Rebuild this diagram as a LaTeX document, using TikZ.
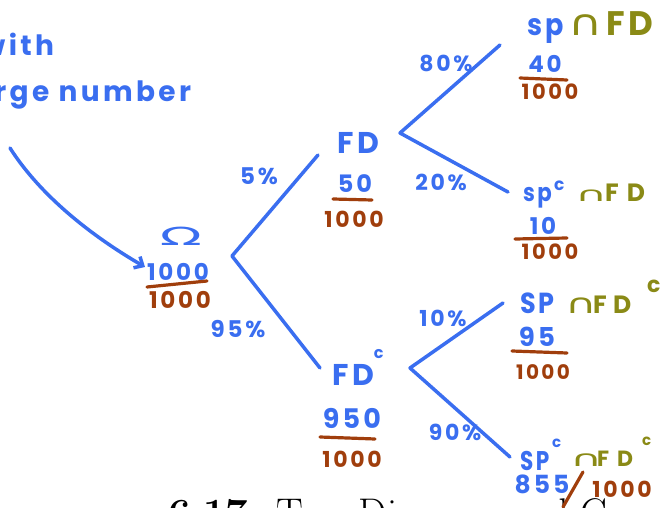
\documentclass[tikz,border=0pt]{standalone}
\usepackage{fontspec}
\newfontfamily\hand{Poppins}[LetterSpace=12]
\newfontfamily\symf{DejaVu Sans}
\usetikzlibrary{arrows.meta}
\definecolor{hblue}{RGB}{58,110,240}
\definecolor{hbrown}{RGB}{160,62,12}
\definecolor{holive}{RGB}{138,138,22}
\newcommand\hcap[2]{{\hspace{-3pt}\symf\mdseries\fontsize{#1}{#1}\selectfont\scalebox{#2}[1]{∩}}}
\newcommand\gl[2]{\makebox[#1pt][l]{#2}}
\newcommand\fs[1]{\fontsize{#1}{#1}\selectfont}
\newcommand\sx[2]{\scalebox{#1}[1]{#2}}
\tikzset{
  lbl/.style={inner sep=0pt, outer sep=0pt},
  btxt/.style={lbl, text=hblue, font=\hand\bfseries\fs{#1}},
  rtxt/.style={lbl, text=hbrown, font=\hand\bfseries\fs{#1}},
  branch/.style={draw=hblue, line width=3.5pt, line cap=round, line join=round},
  uline/.style={draw=hbrown, line width=3.2pt, line cap=round},
}
\begin{document}
\begin{tikzpicture}[x=1pt,y=-1pt]
\useasboundingbox (0,0) rectangle (670,508);
\clip (0,0) rectangle (670,508);

% caption (partly cut off)
\node[lbl, anchor=base west, font=\fs{40}] (cap) at (168,526) {\textbf{6.17:} Tree Diagram and C};

% left text and arrow
\node[btxt=28, anchor=base east] (with) at (54,56) {with};
\node[btxt=28, anchor=base east] (large) at (191,102) {large number};
\coordinate (astart) at (10,148);
\coordinate (atip) at (145,267);
\draw[branch, -{Straight Barb[length=7pt,width=13pt]}] (astart) .. controls (40,195) and (90,235) .. (atip);

% root
\node[btxt=25] (omega) at (181,236) {\symf\mdseries\sx{2.2}{Ω}};
\node[btxt=23] (r1) at (178,272) {1000};
\draw[uline] (147,287) -- (207,281);
\node[rtxt=23] (r2) at (180,300) {1000};

% first level branches
\coordinate (v0) at (232,256);
\coordinate (e1) at (318,155);
\coordinate (e2) at (320,368);
\draw[branch] (e1) -- (v0) -- (e2);
\node[btxt=23] (p5) at (259,176) {5\%};
\node[btxt=23] (p95) at (238,329) {95\%};

% FD
\node[btxt=30] (fd) at (358,143) {FD};
\node[btxt=24] (fdn) at (355,184) {50};
\draw[uline] (333,199) -- (372,200);
\node[rtxt=22] (fdd) at (354,219) {1000};

% FD^c
\node[btxt=30, anchor=base west] (fdc) at (332,385) {FD\raisebox{27pt}{\fs{16}c}};
\node[btxt=27] (fdcn) at (352,418) {950};
\draw[uline] (320,437) -- (375,439);
\node[rtxt=22] (fdcd) at (352,459) {1000};

% second level branches
\coordinate (v1) at (400,133);
\coordinate (e3) at (500,45);
\coordinate (e4) at (508,192);
\draw[branch] (e3) -- (v1) -- (e4);
\coordinate (v2) at (410,368);
\coordinate (e5) at (503,303);
\coordinate (e6) at (510,457);
\draw[branch] (e5) -- (v2) -- (e6);
\node[btxt=22] (p80) at (446,63) {80\%};
\node[btxt=22] (p20) at (441,182) {20\%};
\node[btxt=22] (p10) at (443,318) {10\%};
\node[btxt=22] (p90) at (455,432) {90\%};

% leaf 1
\node[btxt=30, anchor=base west] (l1) at (527,36)
  {\gl{44}{\sx{0.9}{sp}}\textcolor{holive}{\gl{35}{\hcap{36}{1.3}}\fs{34}\gl{23}{F}D}};
\node[btxt=23] (l1n) at (545,64) {40};
\draw[uline] (520,78) -- (567,80);
\node[rtxt=21] (l1d) at (550,92) {1000};

% leaf 2
\node[btxt=25, anchor=base west] (l2) at (523,201)
  {\gl{31}{\sx{0.85}{sp}}\gl{24}{\raisebox{10pt}{\fs{17}c}}\textcolor{holive}{\gl{27}{\hcap{20}{2.2}}\fs{25}\gl{22}{F}D}};
\node[btxt=23] (l2n) at (543,226) {10};
\draw[uline] (515,239) -- (567,238);
\node[rtxt=21] (l2d) at (550,252) {1000};

% leaf 3
\node[btxt=29, anchor=base west] (l3) at (520,313)
  {\gl{48}{\sx{0.88}{SP}}\textcolor{holive}{\gl{25}{\hcap{27}{1.6}}\fs{25}\gl{20}{F}\gl{34}{D}\raisebox{21pt}{\fs{22}c}}};
\node[btxt=26] (l3n) at (537,337) {95};
\draw[uline] (512,351) -- (567,353);
\node[rtxt=20] (l3d) at (543,372) {1000};

% leaf 4
\node[btxt=27, anchor=base west] (l4) at (520,470)
  {\gl{32}{\sx{0.8}{SP}}\gl{21}{\raisebox{23pt}{\fs{15}c}}\textcolor{holive}{\raisebox{4pt}{\gl{24}{\hcap{22}{2}}\fs{22}\gl{20}{F}\gl{25}{D}}\raisebox{25pt}{\fs{15}c}}};
\node[btxt=25] (l4n) at (542,484) {855};
\draw[uline] (563,507) -- (583,472);
\node[rtxt=22] (l4d) at (622,489) {1000};
\end{tikzpicture}
\end{document}
